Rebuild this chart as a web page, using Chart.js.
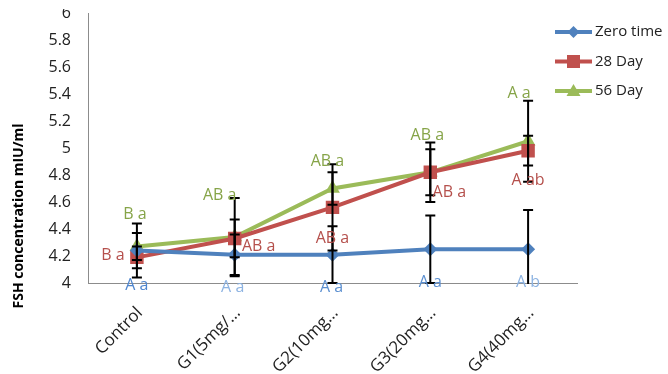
<!DOCTYPE html>
<html>
<head>
<meta charset="utf-8">
<script src="https://cdn.jsdelivr.net/npm/chart.js@4.4.0/dist/chart.umd.min.js"></script>
<style>
  body { margin: 0; background: #fff; overflow: hidden; }
  canvas { display: block; }
</style>
</head>
<body>
<canvas id="fsh-chart" width="668" height="374"></canvas>
<script>
const groups = ['Control', 'G1(5mg/…', 'G2(10mg…', 'G3(20mg…', 'G4(40mg…'];
const zeroTime = [4.24, 4.21, 4.21, 4.25, 4.25];
const day28 = [4.19, 4.33, 4.56, 4.82, 4.98];
const day56 = [4.27, 4.34, 4.70, 4.82, 5.05];
const errZero = [0.20, 0.15, 0.21, 0.25, 0.29];
const err28 = [0.08, 0.14, 0.32, 0.22, 0.11];
const err56 = [0.10, 0.29, 0.12, 0.17, 0.30];
const lettersZero = ['A a', 'A a', 'A a', 'A a', 'A b'];
const letters28 = ['B a', 'AB a', 'AB a', 'AB a', 'A ab'];
const letters56 = ['B a', 'AB a', 'AB a', 'AB a', 'A a'];

const FONT = "'Open Sans', 'DejaVu Sans', sans-serif";
const BLUE = '#4f81bd', RED = '#c0504d', GREEN = '#9bbb59';

// where each letter label sits relative to its point (px)
const labelOffsets = [
  [[0, 35], [-2, 33], [-1, 33], [0, 33], [0, 33]],
  [[-24, -2], [24, 8], [0, 31], [19, 20], [0, 30]],
  [[-2, -32], [-15, -42], [-5, -27], [-3, -37], [-9, -48]]
];
const labelColors = [
  ['#4f86cf', '#8db3e2', '#5b8fd0', '#5b8fd0', '#8db3e2'],
  '#b5504c',
  '#86a448'
];

const errorBars = {
  id: 'errorBars',
  afterDatasetsDraw(c) {
    const { ctx, chartArea } = c;
    const y = c.scales.y;
    const errs = [errZero, err28, err56];
    ctx.save();
    ctx.beginPath();
    ctx.rect(chartArea.left, chartArea.top - 1, chartArea.width, chartArea.height + 2);
    ctx.clip();
    ctx.strokeStyle = '#000';
    ctx.lineWidth = 2;
    c.data.datasets.forEach((ds, di) => {
      const meta = c.getDatasetMeta(di);
      meta.data.forEach((pt, i) => {
        const v = ds.data[i], e = errs[di][i];
        const hi = y.getPixelForValue(v + e), lo = y.getPixelForValue(v - e);
        ctx.beginPath();
        ctx.moveTo(pt.x, hi); ctx.lineTo(pt.x, lo);
        ctx.moveTo(pt.x - 5, hi); ctx.lineTo(pt.x + 5, hi);
        ctx.moveTo(pt.x - 5, lo); ctx.lineTo(pt.x + 5, lo);
        ctx.stroke();
      });
    });
    ctx.restore();
  }
};

const extras = {
  id: 'extras',
  afterDraw(c) {
    const { ctx } = c;
    const letters = [lettersZero, letters28, letters56];
    ctx.save();
    ctx.font = `16px ${FONT}`;
    ctx.textAlign = 'center';
    ctx.textBaseline = 'middle';
    c.data.datasets.forEach((ds, di) => {
      c.getDatasetMeta(di).data.forEach((pt, i) => {
        const [dx, dy] = labelOffsets[di][i];
        const col = labelColors[di];
        ctx.fillStyle = Array.isArray(col) ? col[i] : col;
        ctx.fillText(letters[di][i], pt.x + dx, pt.y + dy);
      });
    });

    // axis title
    ctx.save();
    ctx.translate(19, 216);
    ctx.rotate(-Math.PI / 2);
    ctx.font = `bold 14px ${FONT}`;
    ctx.fillStyle = '#000';
    ctx.fillText('FSH concentration mIU/ml', 0, 0);
    ctx.restore();

    // legend
    const shapes = ['diamond', 'square', 'triangle'];
    c.data.datasets.forEach((ds, di) => {
      const ly = 32 + di * 29.5;
      ctx.strokeStyle = ds.borderColor;
      ctx.fillStyle = ds.borderColor;
      ctx.lineWidth = 4;
      ctx.beginPath();
      ctx.moveTo(555, ly); ctx.lineTo(592, ly);
      ctx.stroke();
      const cx = 573.5;
      ctx.beginPath();
      if (shapes[di] === 'diamond') {
        ctx.moveTo(cx, ly - 6); ctx.lineTo(cx + 6, ly); ctx.lineTo(cx, ly + 6); ctx.lineTo(cx - 6, ly);
      } else if (shapes[di] === 'square') {
        ctx.rect(cx - 6.5, ly - 6.5, 13, 13);
      } else {
        ctx.moveTo(cx, ly - 7); ctx.lineTo(cx + 7, ly + 5); ctx.lineTo(cx - 7, ly + 5);
      }
      ctx.closePath();
      ctx.fill();
      ctx.fillStyle = '#222';
      ctx.textAlign = 'left';
      ctx.font = `15px ${FONT}`;
      ctx.fillText(ds.label, 595, ly);
    });

    // the reference image is cropped just through the top tick label
    ctx.fillStyle = '#fff';
    ctx.fillRect(0, 0, 80, 9);
    ctx.restore();
  }
};

new Chart(document.getElementById('fsh-chart'), {
  type: 'line',
  data: {
    labels: groups,
    datasets: [
      { label: 'Zero time', data: zeroTime, borderColor: BLUE, backgroundColor: BLUE,
        borderWidth: 4, pointStyle: 'rectRot', pointRadius: 7, pointBorderWidth: 0, tension: 0 },
      { label: '28 Day', data: day28, borderColor: RED, backgroundColor: RED,
        borderWidth: 4, pointStyle: 'rect', pointRadius: 9.5, pointBorderWidth: 0, tension: 0 },
      { label: '56 Day', data: day56, borderColor: GREEN, backgroundColor: GREEN,
        borderWidth: 4, pointStyle: 'triangle', pointRadius: 8.5, pointBorderWidth: 0, tension: 0 }
    ]
  },
  options: {
    responsive: false,
    animation: false,
    layout: { padding: { top: 13, right: 91, left: 0, bottom: 0 } },
    plugins: { legend: { display: false }, tooltip: { enabled: false } },
    scales: {
      x: {
        offset: true,
        grid: { display: false, drawTicks: false },
        border: { color: '#8c8c8c', width: 1 },
        ticks: {
          color: '#222', font: { size: 17, family: FONT }, maxRotation: 45, minRotation: 45,
          padding: 20, labelOffset: 3
        },
        afterFit(s) { s.height = 91; s.paddingLeft = 0; s.paddingRight = 0; }
      },
      y: {
        min: 4, max: 6,
        grid: { display: false, drawTicks: false },
        border: { color: '#8c8c8c', width: 1 },
        ticks: {
          stepSize: 0.2, color: '#222', font: { size: 16, family: FONT }, padding: 17,
          callback: v => String(Math.round(v * 10) / 10)
        },
        afterFit(s) { s.width = 88; s.paddingTop = 0; s.paddingBottom = 0; }
      }
    }
  },
  plugins: [errorBars, extras]
});
</script>
</body>
</html>
